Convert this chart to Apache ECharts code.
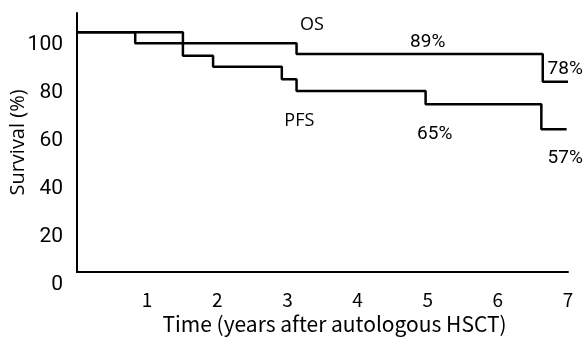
<!DOCTYPE html>
<html>
<head>
<meta charset="utf-8">
<script src="https://cdn.jsdelivr.net/npm/echarts@6/dist/echarts.min.js"></script>
<style>
  html, body {margin: 0; padding: 0; background: #fff;}
  #chart {width: 584px; height: 337px;}
</style>
</head>
<body>
<div id="chart"></div>
<script>
// years after HSCT where each step starts, and survival (%) held from there
const osTime = [0, 1.51, 3.13, 6.64, 7.0];
const osValue = [100, 95.4, 90.9, 79.3, 79.3];
const pfsTime = [0, 0.83, 1.51, 1.94, 2.92, 3.13, 4.97, 6.62, 6.98];
const pfsValue = [100, 95.4, 90.2, 85.6, 80.4, 75.5, 70.0, 59.5, 59.5];
const xTicks = [1, 2, 3, 4, 5, 6, 7];
const yTicks = [0, 20, 40, 60, 80, 100];

// text notes: [text, time, survival]
const curveNames = [['OS', 3.35, 103.1], ['PFS', 3.17, 63.0]];
const pctNotes = [['89%', 5.0, 95.9], ['78%', 6.96, 84.6], ['65%', 5.1, 57.4], ['57%', 6.96, 47.3]];

const chart = echarts.init(document.getElementById('chart'), null, {renderer: 'canvas'});

const noteSeries = (arr, font, size) => ({
  type: 'scatter',
  symbolSize: 1,
  silent: true,
  itemStyle: {opacity: 0},
  label: {
    show: true,
    position: 'inside',
    color: '#000',
    opacity: 1,
    textBorderWidth: 0,
    fontFamily: font,
    fontSize: size,
    formatter: p => p.data[2]
  },
  data: arr.map(([t, x, y]) => [x, y, t])
});

chart.setOption({
  animation: false,
  backgroundColor: '#fff',
  grid: {left: 77, right: 16, top: 13, bottom: 65, outerBoundsMode: 'none'},
  xAxis: {
    type: 'value',
    min: 0,
    max: 7,
    interval: 1,
    name: 'Time (years after autologous HSCT)',
    nameLocation: 'middle',
    nameGap: 42,
    nameMoveOverlap: false,
    nameTextStyle: {fontFamily: '"Noto Sans CJK JP"', fontSize: 21, color: '#000', padding: [0, 0, 0, 24]},
    axisLine: {lineStyle: {color: '#000', width: 2}},
    axisTick: {show: false},
    splitLine: {show: false},
    axisLabel: {
      margin: 18,
      fontFamily: '"Noto Sans CJK JP"',
      fontSize: 19,
      color: '#000',
      formatter: v => xTicks.includes(v) ? String(v) : ''
    }
  },
  yAxis: {
    type: 'value',
    min: 0,
    max: 108,
    interval: 20,
    name: 'Survival (%)',
    nameLocation: 'middle',
    nameGap: 49,
    nameMoveOverlap: false,
    nameTextStyle: {fontFamily: '"Open Sans"', fontSize: 20, color: '#000'},
    axisLine: {show: true, lineStyle: {color: '#000', width: 2}},
    axisTick: {show: false},
    splitLine: {show: false},
    axisLabel: {
      showMaxLabel: false,
      margin: 14,
      verticalAlign: 'top',
      lineHeight: 25,
      fontFamily: 'Roboto',
      fontSize: 21,
      color: '#000',
      formatter: v => yTicks.includes(v) ? String(v) : ''
    }
  },
  series: [
    {
      name: 'OS',
      type: 'line',
      step: 'end',
      symbol: 'none',
      lineStyle: {color: '#000', width: 2.5},
      data: osTime.map((t, i) => [t, osValue[i]])
    },
    {
      name: 'PFS',
      type: 'line',
      step: 'end',
      symbol: 'none',
      lineStyle: {color: '#000', width: 2.5},
      data: pfsTime.map((t, i) => [t, pfsValue[i]])
    },
    noteSeries(curveNames, '"Open Sans"', 18),
    noteSeries(pctNotes, 'Roboto', 19)
  ]
});
</script>
</body>
</html>
